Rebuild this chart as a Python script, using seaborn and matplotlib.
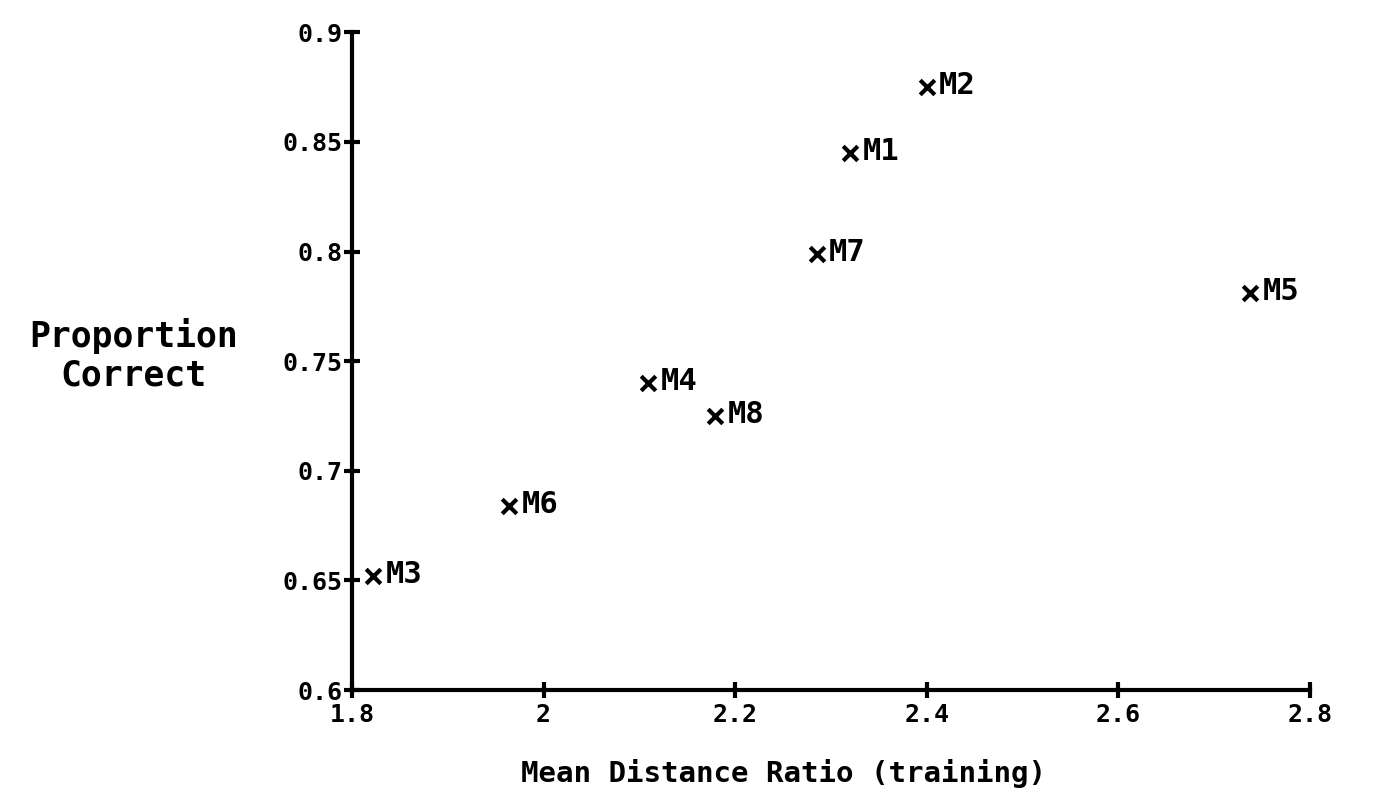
import matplotlib
matplotlib.use("Agg")
import matplotlib.pyplot as plt
import pandas as pd
import seaborn as sns

# values
models = ["M1", "M2", "M3", "M4", "M5", "M6", "M7", "M8"]
distance_ratio = [2.320, 2.400, 1.822, 2.109, 2.738, 1.964, 2.285, 2.179]
prop_correct = [0.845, 0.875, 0.652, 0.740, 0.781, 0.684, 0.799, 0.725]

x_ticks = [1.8, 2.0, 2.2, 2.4, 2.6, 2.8]
x_tick_labels = ["1.8", "2", "2.2", "2.4", "2.6", "2.8"]
y_ticks = [0.6, 0.65, 0.7, 0.75, 0.8, 0.85, 0.9]
y_tick_labels = ["0.6", "0.65", "0.7", "0.75", "0.8", "0.85", "0.9"]

df = pd.DataFrame({"model": models, "ratio": distance_ratio, "correct": prop_correct})

sns.set_style("ticks")
plt.rcParams["font.family"] = ["DejaVu Sans Mono", "DejaVu Sans"]
plt.rcParams["font.weight"] = "bold"
plt.rcParams["text.color"] = "black"
plt.rcParams["axes.labelcolor"] = "black"

fig = plt.figure(figsize=(13.73, 8.08), dpi=100)
ax = fig.add_axes([0.2564, 0.146, 0.6976, 0.814])

sns.scatterplot(data=df, x="ratio", y="correct", marker="x", s=110,
                color="black", linewidth=3, ax=ax, legend=False)

for _, row in df.iterrows():
    ax.annotate(row["model"], (row["ratio"], row["correct"]),
                xytext=(9, 1), textcoords="offset points",
                ha="left", va="center", fontsize=22, fontweight="bold",
                color="black")

ax.set_xlim(1.8, 2.8)
ax.set_ylim(0.6, 0.9)
ax.set_xticks(x_ticks)
ax.set_xticklabels(x_tick_labels)
ax.set_yticks(y_ticks)
ax.set_yticklabels(y_tick_labels)

for side in ["top", "right"]:
    ax.spines[side].set_visible(False)
for side in ["left", "bottom"]:
    ax.spines[side].set_linewidth(3)
    ax.spines[side].set_color("black")

ax.tick_params(axis="both", direction="inout", length=12, width=3,
               labelsize=18, colors="black", bottom=True, left=True)
ax.tick_params(axis="x", pad=3)
ax.tick_params(axis="y", pad=1)
for lab in ax.get_xticklabels() + ax.get_yticklabels():
    lab.set_fontweight("bold")

ax.set_xlabel("Mean Distance Ratio (training)", fontsize=21, fontweight="bold",
              color="black")
ax.xaxis.set_label_coords(0.45, -0.105)
ax.set_ylabel("")
fig.text(0.097, 0.56, "Proportion\nCorrect", ha="center", va="center",
         fontsize=25, fontweight="bold", linespacing=1.15, color="black")

fig.savefig("out.png", dpi=100, facecolor="white")
